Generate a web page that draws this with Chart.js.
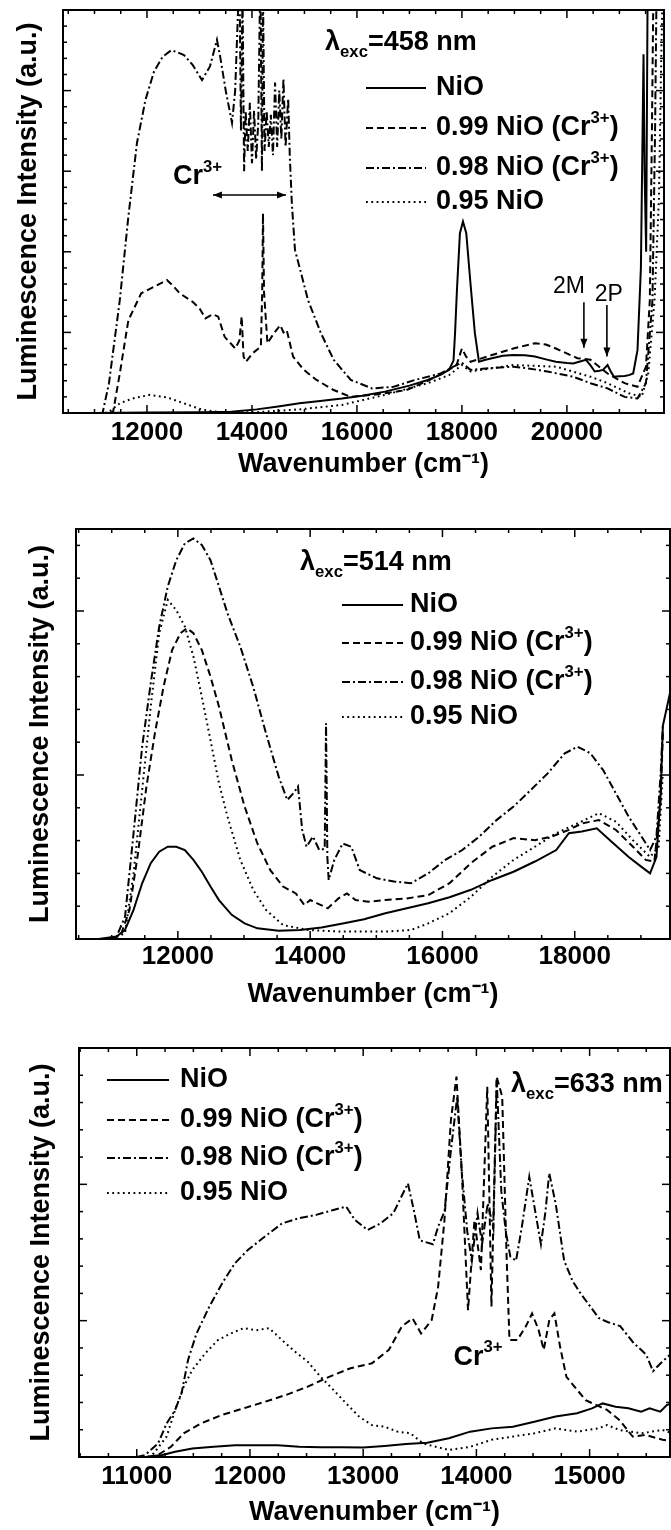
<!DOCTYPE html>
<html>
<head>
<meta charset="utf-8">
<script src="https://cdn.jsdelivr.net/npm/chart.js@4.4.1/dist/chart.umd.min.js"></script>
<style>
  body { margin: 0; background: #fff; width: 671px; height: 1530px; position: relative; overflow: hidden; }
  canvas { position: absolute; left: 0; }
</style>
</head>
<body>
<canvas id="c1" width="671" height="495" style="top:0px"></canvas>
<canvas id="c2" width="671" height="530" style="top:500px"></canvas>
<canvas id="c3" width="671" height="500" style="top:1030px"></canvas>
<script>
// ---- data: [wavenumber (cm-1), intensity (% of panel height)] ----
const seriesNames = ['NiO', '0.99 NiO (Cr^{3+})', '0.98 NiO (Cr^{3+})', '0.95 NiO'];

// lambda_exc = 458 nm
const p458_NiO = [[10400,0],[11000,0],[12000,0.1],[13000,0.2],[13600,0.3],[14090,0.9],[14500,1.6],[14905,2.4],[15300,3],[15714,3.6],[16100,4.3],[16534,5.3],[17000,6.8],[17350,8.2],[17600,9.5],[17753,10.7],[17840,13],[17870,20],[17905,30.5],[17962,44.6],[18020,47.5],[18083,44.6],[18164,32],[18247,19.8],[18325,12.7],[18450,13.2],[18573,13.6],[18780,14.2],[18980,14.4],[19200,14.3],[19390,14],[19600,13.3],[19790,12.7],[20000,12.4],[20120,12.3],[20250,12.8],[20363,13.2],[20450,11.8],[20530,10.3],[20620,10.5],[20687,10.7],[20775,11.9],[20840,10.2],[20897,9],[21000,9.1],[21100,9.2],[21182,9.4],[21263,9.8],[21345,15.6],[21410,36],[21442,70],[21460,89],[21480,60],[21510,40],[21540,110],[21600,120],[21850,120]];
const p458_099 = [[11300,0],[11358,0.5],[11482,9.8],[11645,23],[11890,29.7],[12133,31.3],[12379,33],[12500,31.5],[12623,29.7],[12869,27.6],[13000,26],[13113,23.5],[13250,24.5],[13357,23.9],[13480,18.9],[13683,16],[13760,18],[13804,24],[13840,14],[13886,12.7],[14010,14.8],[14170,16.5],[14195,30],[14210,49.5],[14230,30],[14295,17.3],[14418,19.8],[14540,21.8],[14600,20],[14662,20.6],[14783,14],[14988,10.7],[15230,8.2],[15557,5.7],[15883,4],[16290,4.5],[16600,5],[16944,5.7],[17350,8],[17753,10.7],[17900,12],[18000,16],[18080,14],[18164,12.7],[18573,14.4],[18980,16],[19390,17.3],[19600,17],[19790,16],[20200,13.6],[20450,13.2],[20775,9.8],[21100,7.4],[21345,6.5],[21506,11.5],[21580,28],[21620,70],[21660,120],[21850,120]];
const p458_098 = [[11100,0],[11154,0],[11276,7.4],[11482,28],[11645,48.7],[11809,67],[11971,77.7],[12133,84.7],[12297,88.4],[12461,90],[12580,89.5],[12705,88.8],[12869,86.4],[13048,82.6],[13200,86],[13333,92.6],[13400,88],[13500,80],[13620,72],[13680,80],[13735,100],[13760,112],[13790,70],[13820,105],[13850,60],[13880,75],[13920,65],[13960,77],[14000,62],[14040,75],[14080,63],[14120,72],[14160,110],[14190,60],[14210,105],[14240,65],[14280,75],[14320,66],[14360,74],[14400,64],[14440,82],[14480,66],[14520,80],[14560,68],[14600,83],[14640,66],[14690,78],[14720,64],[14760,52],[14820,40.4],[14904,36.3],[15068,28],[15314,19.8],[15557,13.2],[15883,8.2],[16290,6.1],[16700,6.5],[17105,8.2],[17596,9.8],[17840,11.5],[18000,12.5],[18164,10.7],[18600,11.2],[18980,11.5],[19300,11],[19630,10.3],[20120,9],[20450,7.4],[20775,6.1],[21100,4],[21345,3.6],[21506,7.4],[21630,28],[21680,70],[21720,120],[21850,120]];
const p458_095 = [[11200,0],[11276,0.3],[11482,2.4],[11723,3.6],[12053,4.5],[12379,3.9],[12705,2.4],[13030,0.9],[13438,0.1],[14090,0.2],[14905,0.9],[15714,2],[16534,4.5],[17350,7.4],[17753,9.4],[18000,11.9],[18164,10.3],[18980,11.9],[19790,11.5],[20450,9],[20775,7.4],[21182,4.9],[21425,4],[21550,9.8],[21670,28],[21753,53],[21800,90],[21850,120]];

// lambda_exc = 514 nm
const p514_NiO = [[10800,0],[11073,0.6],[11201,2.2],[11330,7.1],[11460,13.6],[11590,18.5],[11718,21.3],[11848,22.5],[11976,22.5],[12106,21.7],[12235,19.3],[12362,16.4],[12493,12.8],[12621,9.5],[12814,5.9],[13009,3.8],[13202,2.6],[13524,2],[13847,2.2],[14171,2.8],[14493,3.8],[14816,4.8],[15137,6.3],[15461,7.5],[15784,8.7],[16107,10.2],[16430,12],[16753,14.4],[17075,16.4],[17398,18.9],[17720,21.7],[17911,25.8],[18107,26.2],[18333,27],[18557,23.7],[18816,20],[19009,17.6],[19139,16],[19235,20],[19299,35.5],[19332,52],[19440,60]];
const p514_099 = [[11000,0],[11138,1],[11267,7],[11397,20.9],[11525,37.2],[11653,50.2],[11783,61.5],[11913,70.5],[12041,74.6],[12137,75.8],[12235,74.6],[12362,70.5],[12493,64],[12621,56.7],[12814,43.7],[13009,32.3],[13202,23.3],[13397,16.8],[13590,12.8],[13783,11.1],[13913,8.3],[14000,9.5],[14106,8.7],[14267,7.5],[14428,9.9],[14557,11.1],[14687,9.5],[14880,9.1],[15137,9.5],[15461,9.9],[15784,10.7],[16107,13.6],[16430,18.5],[16753,22.5],[17075,24.6],[17398,24.1],[17655,25],[17911,26.6],[18107,28.2],[18364,29],[18623,26.6],[18880,22.5],[19073,19.3],[19204,18.9],[19299,33.9],[19332,50]];
const p514_098 = [[10900,0],[11073,0.6],[11201,5.4],[11330,25.8],[11460,46.9],[11590,62.4],[11718,76.2],[11848,86],[11976,92.4],[12106,96.5],[12235,97.7],[12362,96.1],[12493,92.4],[12621,86],[12751,79.4],[12944,71.3],[13139,61.5],[13332,50.2],[13524,39.6],[13654,33.9],[13749,35.6],[13816,37.2],[13880,26.6],[13945,22.5],[14041,25],[14138,21.7],[14220,22],[14240,52.6],[14260,20],[14280,14.4],[14365,19.3],[14493,23.3],[14622,22.5],[14750,16.8],[15008,14.8],[15268,14],[15526,13.6],[15784,16],[16042,19.3],[16300,21.7],[16558,25],[16817,29],[17075,32.3],[17333,36.3],[17591,40.4],[17849,45.3],[18043,46.9],[18236,45.3],[18429,41.2],[18623,35.5],[18816,29.8],[19009,25],[19139,21.7],[19235,25],[19299,40.4],[19332,52]];
const p514_095 = [[11000,0],[11201,1.4],[11330,16],[11460,36.3],[11590,56.7],[11718,74.6],[11848,82.7],[11976,80.2],[12106,76.2],[12235,68.9],[12362,59.1],[12493,48.5],[12621,38],[12751,29.8],[12944,19.3],[13139,12],[13332,7.1],[13590,3.4],[13976,2.2],[14493,1.8],[15137,1.8],[15526,2.2],[15784,3.8],[16107,6.3],[16430,10.3],[16753,15.2],[17075,19.3],[17398,22.5],[17720,25.8],[18043,28.2],[18364,30.7],[18623,28.6],[18880,24.1],[19139,20],[19268,22.5],[19330,40]];

// lambda_exc = 633 nm
const p633_NiO = [[10500,0],[11075,0],[11226,0.5],[11339,1.3],[11491,2.1],[11680,2.5],[11868,2.9],[12057,2.9],[12245,2.9],[12434,2.5],[12624,2.4],[12812,2.4],[13001,2.3],[13189,2.7],[13378,3.2],[13567,3.5],[13757,4.6],[13945,6.2],[14134,7],[14323,7.4],[14512,8.6],[14700,9.9],[14889,10.7],[15021,11.9],[15115,13.1],[15229,12.3],[15342,11.9],[15455,11.1],[15530,11.9],[15624,11.1],[15682,12.7],[15710,13]];
const p633_099 = [[11100,0],[11188,0.5],[11302,2.5],[11415,5.8],[11566,8.2],[11755,10.3],[11944,11.9],[12132,13.5],[12321,15.2],[12510,17.2],[12699,19.6],[12888,21.7],[13077,22.9],[13227,26.2],[13341,31.9],[13436,33.9],[13511,30.2],[13605,33.5],[13662,41.6],[13718,57.9],[13775,82.4],[13824,93],[13870,70.2],[13926,35.9],[13983,57.9],[14040,45.7],[14096,90.5],[14133,36.8],[14179,93],[14228,88.1],[14266,49.8],[14292,28.6],[14361,28.6],[14436,31.9],[14492,35.1],[14550,31],[14595,26.2],[14644,33.5],[14689,35.1],[14739,27],[14795,19.6],[14965,13.9],[15154,11.5],[15266,9],[15380,5],[15493,5.4],[15644,4.2],[15710,4]];
const p633_098 = [[11000,0],[11075,0.5],[11188,3.3],[11264,8.2],[11339,11.5],[11396,15.6],[11453,23.7],[11528,30.2],[11642,36.8],[11755,42.5],[11868,47.4],[11981,50.6],[12132,53.9],[12283,57.1],[12434,58.4],[12585,59.2],[12737,60.4],[12850,61.2],[12926,58],[13039,55.5],[13152,57.1],[13266,59.6],[13395,66.9],[13450,60],[13500,53],[13615,52],[13662,56.3],[13718,60],[13775,75],[13830,88],[13870,70],[13920,55],[13960,48],[14010,59.6],[14050,52],[14100,62],[14150,56],[14180,92],[14220,65],[14260,55],[14300,49],[14350,48],[14400,56],[14467,68.5],[14520,60],[14570,52],[14610,60],[14643,69.4],[14700,62],[14775,48],[14850,43],[14920,40],[15000,37],[15080,34],[15158,33],[15270,32],[15385,28],[15500,25],[15560,21],[15630,23],[15710,25]];
const p633_095 = [[11100,0],[11150,0.9],[11264,5],[11339,11.5],[11415,17.2],[11491,21.3],[11604,25.3],[11717,28.6],[11830,30.2],[11944,31.5],[12057,31],[12170,31.5],[12283,28.6],[12396,25.8],[12510,23.3],[12624,19.6],[12737,16.4],[12850,13.1],[12963,9.9],[13077,7.8],[13190,7.4],[13303,6.2],[13417,5.8],[13530,3.3],[13757,1.7],[13946,2.5],[14134,4.2],[14323,5],[14512,5.8],[14700,7],[14889,6.2],[15077,7],[15154,7.8],[15266,6.6],[15455,5.8],[15644,6.6],[15710,6]];

// tick labels
const ticks458 = [12000, 14000, 16000, 18000, 20000];
const ticks514 = [12000, 14000, 16000, 18000];
const ticks633 = [11000, 12000, 13000, 14000, 15000];

const FAMILY = '"Liberation Sans", Arial, Helvetica, sans-serif';
const dashes = [[], [7, 4], [8, 3, 2, 3], [1.8, 3.5]];

// text with ^{sup} and _{sub} parts
function richParts(str) {
  return str.split(/(\^\{[^}]*\}|_\{[^}]*\})/).filter(Boolean).map(p => {
    if (p[0] === '^') return {t: p.slice(2, -1), k: 'sup'};
    if (p[0] === '_') return {t: p.slice(2, -1), k: 'sub'};
    return {t: p, k: ''};
  });
}
function richText(ctx, str, x, y, size, weight, align) {
  const parts = richParts(str);
  const fontOf = p => weight + ' ' + (p.k ? size * 0.62 : size) + 'px ' + FAMILY;
  let w = 0;
  parts.forEach(p => { ctx.font = fontOf(p); p.w = ctx.measureText(p.t).width; w += p.w; });
  if (align === 'center') x -= w / 2;
  ctx.textAlign = 'left';
  ctx.textBaseline = 'middle';
  parts.forEach(p => {
    ctx.font = fontOf(p);
    const dy = p.k === 'sup' ? -size * 0.36 : (p.k === 'sub' ? size * 0.34 : 0);
    ctx.fillText(p.t, x, y + dy);
    x += p.w;
  });
}

function seg(ctx, x1, y1, x2, y2) {
  ctx.beginPath(); ctx.moveTo(x1, y1); ctx.lineTo(x2, y2); ctx.stroke();
}
function head(ctx, x, y, ang) {
  ctx.beginPath();
  ctx.moveTo(x, y);
  ctx.lineTo(x - 9 * Math.cos(ang) + 3.5 * Math.sin(ang), y - 9 * Math.sin(ang) - 3.5 * Math.cos(ang));
  ctx.lineTo(x - 9 * Math.cos(ang) - 3.5 * Math.sin(ang), y - 9 * Math.sin(ang) + 3.5 * Math.cos(ang));
  ctx.closePath(); ctx.fill();
}

// frame, inward ticks, legend and labels
const decor = {
  id: 'decor',
  afterDraw(chart, args, o) {
    const {ctx, chartArea: a, scales: {x, y}} = chart;
    ctx.save();
    ctx.strokeStyle = '#000';
    ctx.fillStyle = '#000';
    ctx.lineWidth = 2;
    ctx.strokeRect(a.left, a.top, a.right - a.left, a.bottom - a.top);

    ctx.lineWidth = 1.5;
    const first = Math.ceil(x.min / o.xMinor) * o.xMinor;
    for (let v = first; v < x.max; v += o.xMinor) {
      const px = x.getPixelForValue(v);
      const len = v % o.xMajor === 0 ? 8 : 4;
      seg(ctx, px, a.bottom, px, a.bottom - len);
      seg(ctx, px, a.top, px, a.top + len);
    }
    for (let k = 1; k * o.yMinor < y.max - 0.01; k++) {
      const py = y.getPixelForValue(k * o.yMinor);
      const len = k % 5 === 0 ? 8 : 4;
      seg(ctx, a.left, py, a.left + len, py);
      seg(ctx, a.right, py, a.right - len, py);
    }

    // legend
    const L = o.legend;
    chart.data.datasets.forEach((ds, i) => {
      const ly = L.rows[i];
      ctx.lineWidth = ds.borderWidth;
      ctx.setLineDash(ds.borderDash);
      seg(ctx, L.x0, ly, L.x1, ly);
      ctx.setLineDash([]);
      richText(ctx, ds.label, L.tx, ly, 27, 'bold');
    });
    richText(ctx, o.lambda.text, o.lambda.x, o.lambda.y, 27, 'bold');

    // notes in data coordinates
    (o.notes || []).forEach(n => {
      if (n.text) {
        richText(ctx, n.text, x.getPixelForValue(n.x), y.getPixelForValue(n.y), n.size, n.weight, n.align);
      } else {
        const x1 = x.getPixelForValue(n.x1), y1 = y.getPixelForValue(n.y1);
        const x2 = x.getPixelForValue(n.x2), y2 = y.getPixelForValue(n.y2);
        ctx.lineWidth = 1.6;
        seg(ctx, x1, y1, x2, y2);
        const ang = Math.atan2(y2 - y1, x2 - x1);
        head(ctx, x2, y2, ang);
        if (n.both) head(ctx, x1, y1, ang + Math.PI);
      }
    });
    ctx.restore();
  }
};

function makeChart(id, series, p) {
  const datasets = series.map((s, i) => ({
    label: seriesNames[i],
    data: s.map(([x, y]) => ({x, y})),
    borderColor: '#000',
    borderWidth: 2,
    borderDash: dashes[i],
    pointRadius: 0,
    tension: 0,
    fill: false
  }));
  return new Chart(document.getElementById(id), {
    type: 'line',
    data: {datasets},
    plugins: [decor],
    options: {
      responsive: false,
      animation: false,
      layout: {padding: {left: 0, top: p.top, right: p.right, bottom: 0}},
      plugins: {
        legend: {display: false},
        tooltip: {enabled: false},
        decor: p.decor
      },
      scales: {
        x: {
          type: 'linear',
          min: p.xMin,
          max: p.xMax,
          afterFit: s => { s.height = p.xHeight; },
          afterBuildTicks: s => { s.ticks = p.ticks.map(v => ({value: v})); },
          grid: {display: false, drawTicks: false},
          border: {display: false},
          ticks: {
            padding: p.tickPad,
            autoSkip: false,
            maxRotation: 0,
            color: '#000',
            font: {family: FAMILY, size: 26, weight: 'bold'},
            callback: v => String(v)
          },
          title: {
            display: true,
            text: 'Wavenumber (cm⁻¹)',
            color: '#000',
            font: {family: FAMILY, size: 27, weight: 'bold'},
            padding: {top: 0, bottom: p.xTitlePad}
          }
        },
        y: {
          min: 0,
          max: 100,
          afterFit: s => { s.width = p.yWidth; },
          grid: {display: false},
          border: {display: false},
          ticks: {display: false},
          title: {
            display: true,
            text: 'Luminescence Intensity (a.u.)',
            color: '#000',
            font: {family: FAMILY, size: 27, weight: 'bold'},
            padding: {top: p.yTitlePad, bottom: 0}
          }
        }
      }
    }
  });
}

makeChart('c1', [p458_NiO, p458_099, p458_098, p458_095], {
  top: 10, right: 7, xMin: 10400, xMax: 21850, xHeight: 82, yWidth: 63,
  tickPad: 4, xTitlePad: 14, yTitlePad: 12, ticks: ticks458,
  decor: {
    xMinor: 500, xMajor: 2000, yMinor: 4,
    legend: {x0: 366, x1: 426, tx: 436, rows: [88, 128, 168, 202]},
    lambda: {text: 'λ_{exc}=458 nm', x: 325, y: 43},
    notes: [
      {text: 'Cr^{3+}', x: 12495, y: 58.6, size: 27, weight: 'bold', align: 'left'},
      {x1: 13257, y1: 54.1, x2: 14648, y2: 54.1, both: true},
      {text: '2M', x: 20040, y: 31.3, size: 23, weight: 'normal', align: 'center'},
      {text: '2P', x: 20800, y: 29.3, size: 23, weight: 'normal', align: 'center'},
      {x1: 20324, y1: 27.5, x2: 20324, y2: 16.2},
      {x1: 20762, y1: 26.8, x2: 20762, y2: 14}
    ]
  }
});

makeChart('c2', [p514_NiO, p514_099, p514_098, p514_095], {
  top: 29, right: 1, xMin: 10460, xMax: 19440, xHeight: 91, yWidth: 76,
  tickPad: 2, xTitlePad: 19, yTitlePad: 24, ticks: ticks514,
  decor: {
    xMinor: 500, xMajor: 2000, yMinor: 8,
    legend: {x0: 342, x1: 403, tx: 410, rows: [105, 143, 182, 217]},
    lambda: {text: 'λ_{exc}=514 nm', x: 300, y: 63},
    notes: []
  }
});

makeChart('c3', [p633_NiO, p633_099, p633_098, p633_095], {
  top: 18, right: 1, xMin: 10490, xMax: 15710, xHeight: 73, yWidth: 79,
  tickPad: 4, xTitlePad: 1, yTitlePad: 25, ticks: ticks633,
  decor: {
    xMinor: 250, xMajor: 1000, yMinor: 20 / 3,
    legend: {x0: 107, x1: 169, tx: 180, rows: [50, 90, 128, 163]},
    lambda: {text: 'λ_{exc}=633 nm', x: 511, y: 55},
    notes: [
      {text: 'Cr^{3+}', x: 13798, y: 24.4, size: 27, weight: 'bold', align: 'left'}
    ]
  }
});
</script>
</body>
</html>
